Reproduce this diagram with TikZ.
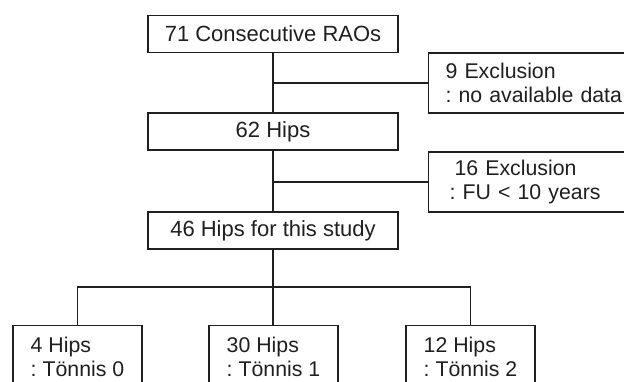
\documentclass[tikz,border=0pt]{standalone}
\usepackage{fontspec}
\setmainfont{Liberation Sans}
\frenchspacing

\begin{document}
\begin{tikzpicture}[x=1pt, y=-1pt, line width=1.2pt, color={black!88},
    font=\fontsize{21.3}{23.5}\selectfont\frenchspacing,
    box/.style={draw, font=\fontsize{22}{24}\selectfont, minimum width=250pt, minimum height=37pt, inner sep=0pt},
    exclbox/.style={draw, anchor=west, text width=200pt, inner xsep=17pt, align=left, minimum height=60pt},
    gradebox/.style={draw, anchor=north, align=left, minimum width=129pt, minimum height=63pt}]
  \useasboundingbox (0,0) rectangle (624,382);
  \clip (0,0) rectangle (624,382);
  % main column
  \node[box] (rao) at (273,34) {71 Consecutive RAOs};
  \node[box] (hips62) at (273,131.5) {62 Hips};
  \node[box] (hips46) at (273,230.5) {46 Hips for this study};
  % exclusions
  \node[exclbox] (excl9) at (428,83) {9 Exclusion\\: no available data};
  \node[exclbox, inner xsep=21pt] (excl16) at (428,182) {\hspace*{5pt}16 Exclusion\\: FU < 10 years};
  % groups
  \node[gradebox] (ton0) at (77.5,325) {4 Hips\\: Tönnis 0};
  \node[gradebox] (ton1) at (273.5,325) {30 Hips\\: Tönnis 1};
  \node[gradebox] (ton2) at (470.5,325) {12 Hips\\: Tönnis 2};
  \coordinate (split) at (273,287);
  \draw (rao.south) -- (hips62.north);
  \draw (rao.south |- excl9.west) -- (excl9.west);
  \draw (hips62.south) -- (hips46.north);
  \draw (hips62.south |- excl16.west) -- (excl16.west);
  \draw (hips46.south) -- (split) -- (split |- ton1.north);
  \draw (ton0.north) |- (split) -| (ton2.north);
\end{tikzpicture}
\end{document}
